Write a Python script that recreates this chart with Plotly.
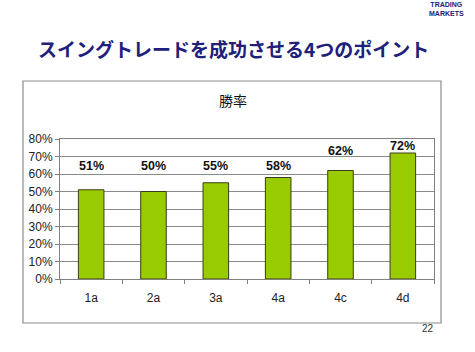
import plotly.graph_objects as go

categories = ["1a", "2a", "3a", "4a", "4c", "4d"]
win_rate = [51, 50, 55, 58, 62, 72]
y_ticks = [0, 10, 20, 30, 40, 50, 60, 70, 80]
y_tick_labels = [f"{v}%" for v in y_ticks]

page_title = "スイングトレードを成功させる4つのポイント"
chart_title = "勝率"
page_number = "22"

# label offsets above bar tops in pixels (styling)
label_yshift = [24, 26, 17, 12, 20, 7]

W, H = 475, 352
L, R, T, B = 60, 41, 139, 73
pw, ph = W - L - R, H - T - B

def px_x(x):
    return (x - L) / pw

def px_y(y):
    return (H - B - y) / ph

fig = go.Figure()
fig.add_trace(go.Bar(
    x=categories, y=win_rate,
    marker=dict(color="#99CC00", line=dict(color="#3A3A1A", width=1)),
    hoverinfo="skip",
))

annotations = []
for c, v, s in zip(categories, win_rate, label_yshift):
    annotations.append(dict(
        x=c, y=v, xref="x", yref="y", text=f"<b>{v}%</b>", showarrow=False,
        yanchor="middle", yshift=s,
        font=dict(family="Liberation Sans, Arial", size=12.5, color="#111111"),
    ))

def page_ann(x, y, text, font, xanchor="center"):
    return dict(x=px_x(x), y=px_y(y), xref="paper", yref="paper", text=text,
                showarrow=False, xanchor=xanchor, yanchor="middle", font=font)

annotations += [
    page_ann(233, 48, f"<b>{page_title}</b>",
             dict(family="Noto Sans CJK JP", size=19, color="#20207A")),
    page_ann(233, 100, chart_title,
             dict(family="Noto Sans CJK JP", size=14, color="#111111")),
    page_ann(428, 328, page_number,
             dict(family="Liberation Sans, Arial", size=10, color="#333333")),
    page_ann(447, 9, "<b>TRADING<br>MARKETS</b>",
             dict(family="Liberation Sans Narrow, Arial Narrow, Liberation Sans", size=7, color="#20207A")),
]

shapes = [
    dict(type="rect", xref="paper", yref="paper",
         x0=px_x(23), x1=px_x(441), y0=px_y(323), y1=px_y(81),
         line=dict(color="#8C8C8C", width=1.2), layer="below"),
]

fig.update_layout(
    width=W, height=H,
    margin=dict(l=L, r=R, t=T, b=B, pad=0),
    paper_bgcolor="white", plot_bgcolor="white",
    showlegend=False,
    bargap=0.59,
    annotations=annotations,
    shapes=shapes,
    xaxis=dict(
        showline=True, linecolor="#808080", linewidth=1, mirror=True,
        ticks="outside", tickson="boundaries", ticklen=4, tickcolor="#808080",
        ticklabelstandoff=8,
        tickfont=dict(family="Liberation Sans, Arial", size=12, color="#222222"),
        showgrid=False,
    ),
    yaxis=dict(
        range=[0, 80], tickvals=y_ticks, ticktext=y_tick_labels,
        showline=True, linecolor="#808080", linewidth=1, mirror=True,
        ticks="outside", ticklen=4, tickcolor="#808080",
        showgrid=True, gridcolor="#8A8A8A", gridwidth=1,
        tickfont=dict(family="Liberation Sans, Arial", size=12, color="#222222"),
        zeroline=False,
    ),
)

fig.write_html("out.html")
